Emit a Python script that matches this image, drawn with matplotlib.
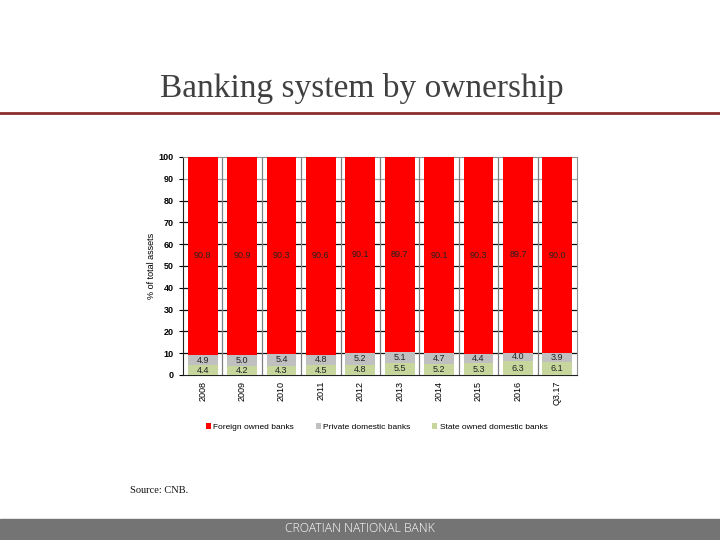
import numpy as np
import matplotlib.pyplot as plt
from matplotlib.lines import Line2D
from matplotlib.patches import Rectangle

# data (% of total assets)
years = ['2008', '2009', '2010', '2011', '2012', '2013', '2014', '2015', '2016', 'Q3.17']
foreign = [90.8, 90.9, 90.3, 90.6, 90.1, 89.7, 90.1, 90.3, 89.7, 90.0]
private_dom = [4.9, 5.0, 5.4, 4.8, 5.2, 5.1, 4.7, 4.4, 4.0, 3.9]
state_dom = [4.4, 4.2, 4.3, 4.5, 4.8, 5.5, 5.2, 5.3, 6.3, 6.1]

c_foreign = '#ff0000'
c_private = '#c0c0c0'
c_state = '#c6d69c'

plt.rcParams['font.family'] = ['Liberation Sans', 'DejaVu Sans']

fig = plt.figure(figsize=(7.2, 5.4), dpi=100)

# slide title and rule
fig.text(0.503, 0.836, 'Banking system by ownership', ha='center', va='center',
         family='Liberation Serif', fontsize=24, color='#404040')
fig.add_artist(Line2D([0, 1], [0.790, 0.790], transform=fig.transFigure,
                      color='#8b2e2e', lw=2))

ax = fig.add_axes([0.2542, 0.3056, 0.5472, 0.4037])
x = np.arange(len(years))
w = 0.76

b1 = ax.bar(x, state_dom, w, color=c_state, zorder=3, label='State owned domestic banks')
b2 = ax.bar(x, private_dom, w, bottom=state_dom, color=c_private, zorder=3,
            label='Private domestic banks')
bottom2 = np.array(state_dom) + np.array(private_dom)
b3 = ax.bar(x, foreign, w, bottom=bottom2, color=c_foreign, zorder=3,
            label='Foreign owned banks')

# value labels in the middle of each segment
for i in range(len(years)):
    ax.text(x[i], state_dom[i] / 2, f'{state_dom[i]:.1f}', ha='center', va='center',
            fontsize=6.5, color='#222222', zorder=4)
    ax.text(x[i], state_dom[i] + private_dom[i] / 2, f'{private_dom[i]:.1f}',
            ha='center', va='center', fontsize=6.5, color='#222222', zorder=4)
    ax.text(x[i], bottom2[i] + foreign[i] / 2, f'{foreign[i]:.1f}', ha='center',
            va='center', fontsize=6.5, color='#222222', zorder=4)

ax.set_xlim(-0.5, len(years) - 0.5)
ax.set_ylim(0, 100)
ax.set_yticks(np.arange(0, 101, 10))
ax.set_xticks(x)
ax.set_xticklabels(years, rotation=90, fontsize=6.5)
ax.tick_params(axis='y', labelsize=6.5, length=3, width=0.8)
ax.tick_params(axis='x', length=0, pad=4)
for lab in ax.get_yticklabels():
    lab.set_fontweight('bold')

# grid: dark horizontal lines (top one lighter), grey separators between categories
for yv in range(10, 100, 10):
    ax.axhline(yv, color='#a0a0a0' if yv == 90 else '#111111', lw=0.9, zorder=1)
for xv in np.arange(0.5, len(years) - 0.5, 1):
    ax.axvline(xv, color='#808080', lw=0.9, zorder=1)

ax.spines['left'].set_color('#222222')
ax.spines['bottom'].set_color('#222222')
ax.spines['top'].set_color('#909090')
ax.spines['right'].set_color('#909090')

ax.set_ylabel('% of total assets', fontsize=6.5, labelpad=2)

# legend below plot
handles = [b3, b2, b1]
leg = fig.legend(handles, [h.get_label() for h in handles], loc='center',
                 bbox_to_anchor=(0.523, 0.209), ncol=3, frameon=False, fontsize=6,
                 handlelength=0.6, handleheight=0.6, handletextpad=0.3,
                 columnspacing=2.6)

fig.text(0.18, 0.092, 'Source: CNB.', family='Liberation Serif', fontsize=7.5,
         color='#111111', va='center')

# footer band
fig.add_artist(Rectangle((0, 0), 1, 21 / 540, transform=fig.transFigure,
                         color='#747474', zorder=0))
fig.text(0.5, 11 / 540, 'CROATIAN NATIONAL BANK', ha='center', va='center',
         fontsize=8.8, color='white', family=['Open Sans', 'DejaVu Sans'],
         fontweight='light')

fig.savefig('out.png', dpi=100)
